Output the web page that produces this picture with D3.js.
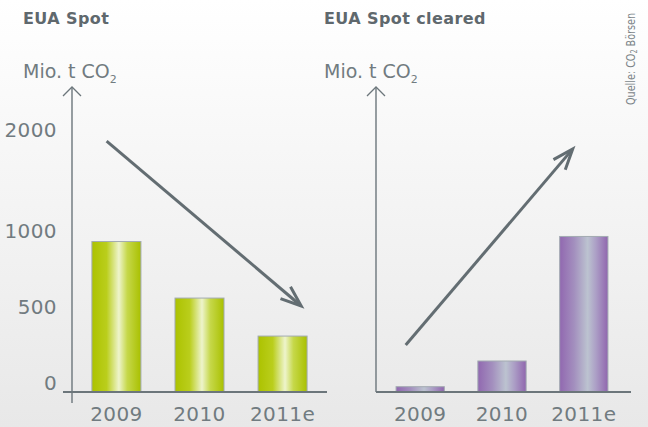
<!DOCTYPE html>
<html><head><meta charset="utf-8">
<script src="https://cdn.jsdelivr.net/npm/d3@7"></script>
<style>
html,body{margin:0;padding:0;}
svg{display:block;}
text{font-family:"DejaVu Sans",sans-serif;}
</style></head>
<body><svg id="c" width="648" height="427"></svg>
<script>
const categories = ["2009","2010","2011e"];
const spotValues = [990, 618, 368];
const clearedValues = [35, 204, 1035];
const tickValues = [0, 500, 1000, 2000];
const titles = ["EUA Spot", "EUA Spot cleared"];
// trend annotations: [category, fraction of band, value]
const trendSpot = [["2009", 0.3, 1980], ["2011e", 0.88, 566]];
const trendCleared = [["2009", 0.2, 309], ["2011e", 0.27, 1901]];

const svg = d3.select("#c");
const W = 648, H = 427;
const defs = svg.append("defs");
const bg = defs.append("linearGradient").attr("id","bg").attr("x1",0).attr("y1",0).attr("x2",0).attr("y2",1);
bg.append("stop").attr("offset","0%").attr("stop-color","#ffffff");
bg.append("stop").attr("offset","100%").attr("stop-color","#e8e8e8");
svg.append("rect").attr("width",W).attr("height",H).attr("fill","url(#bg)");

function grad(id, stops){
  const g = defs.append("linearGradient").attr("id",id).attr("x1",0).attr("y1",0).attr("x2",1).attr("y2",0);
  stops.forEach(s=>g.append("stop").attr("offset",s[0]).attr("stop-color",s[1]));
}
grad("green", [["0%","#acc200"],["30%","#bace1c"],["55%","#eef4cc"],["72%","#c6d84a"],["100%","#a9c000"]]);
grad("purple", [["0%","#9168b0"],["30%","#a38fbe"],["58%","#bcc3d0"],["75%","#ac9fc6"],["100%","#9066ae"]]);

const y = d3.scaleLinear().domain([0,1000,2000]).range([392,240,139]);

const axisColor = "#6c767b";
const textColor = "#717b80";

function panel(opt){
  const g = svg.append("g");
  const x = d3.scaleBand().domain(categories).range(opt.xr).paddingInner(0.41).paddingOuter(0.2);
  g.selectAll("rect.bar").data(opt.values).join("rect")
    .attr("x",(d,i)=>x(categories[i]))
    .attr("y",d=>y(d))
    .attr("width",x.bandwidth())
    .attr("height",d=>y(0)-y(d))
    .attr("fill",`url(#${opt.fill})`)
    .attr("stroke","#a3abb2").attr("stroke-width",1);
  g.append("line").attr("x1",opt.ax).attr("x2",opt.ax).attr("y1",y(0)+opt.yExt).attr("y2",87)
    .attr("stroke",axisColor).attr("stroke-width",1.4);
  g.append("path").attr("d",`M${opt.ax-9},96L${opt.ax},87L${opt.ax+9},96`)
    .attr("fill","none").attr("stroke",axisColor).attr("stroke-width",1.3);
  g.append("line").attr("x1",opt.ax-opt.xExt).attr("x2",opt.xEnd).attr("y1",y(0)).attr("y2",y(0))
    .attr("stroke",axisColor).attr("stroke-width",2);
  const xa = g.append("g").attr("transform",`translate(0,${y(0)})`)
    .call(d3.axisBottom(x).tickSize(0).tickPadding(0));
  xa.select(".domain").remove();
  xa.selectAll("text").attr("dy",0).attr("y",29).attr("font-size",20)
    .attr("fill",textColor).attr("font-family","DejaVu Sans").style("letter-spacing","0.4px");
  if(opt.ticks){
    const ya = g.append("g").attr("transform",`translate(${opt.ax},0)`)
      .call(d3.axisLeft(y).tickValues(tickValues).tickSize(0).tickPadding(15).tickFormat(d3.format("d")));
    ya.select(".domain").remove();
    ya.selectAll("text").attr("dy","-0.12em").attr("font-size",20).attr("fill",textColor)
      .attr("font-family","DejaVu Sans").style("letter-spacing","0.4px");
  }
  g.append("text").attr("x",opt.tx).attr("y",24).text(opt.title)
    .attr("font-size",16).attr("font-weight","bold").attr("fill","#5f686d").style("letter-spacing","0.4px");
  const u = g.append("text").attr("x",opt.tx).attr("y",78).attr("font-size",19).attr("fill",textColor);
  u.append("tspan").text("Mio. t CO");
  u.append("tspan").text("2").attr("font-size",11).attr("dy",5);
  const p0 = [x(opt.trend[0][0]) + opt.trend[0][1]*x.bandwidth(), y(opt.trend[0][2])];
  const p1 = [x(opt.trend[1][0]) + opt.trend[1][1]*x.bandwidth(), y(opt.trend[1][2])];
  const ang = Math.atan2(p1[1]-p0[1], p1[0]-p0[0]);
  const L = 22, da = 0.36;
  const a1 = [p1[0]-L*Math.cos(ang-da), p1[1]-L*Math.sin(ang-da)];
  const a2 = [p1[0]-L*Math.cos(ang+da), p1[1]-L*Math.sin(ang+da)];
  g.append("line").attr("x1",p0[0]).attr("y1",p0[1]).attr("x2",p1[0]-1.5*Math.cos(ang)).attr("y2",p1[1]-1.5*Math.sin(ang))
    .attr("stroke","#636d72").attr("stroke-width",3);
  g.append("path").attr("d",`M${a1}L${p1}L${a2}`).attr("fill","none")
    .attr("stroke","#636d72").attr("stroke-width",3).attr("stroke-linejoin","miter");
}

panel({xr:[75.3,323.7], values:spotValues, fill:"green", ax:72, yExt:11, xExt:9, xEnd:327, ticks:true, tx:23, title:titles[0], trend:trendSpot});
panel({xr:[379.7,624.3], values:clearedValues, fill:"purple", ax:376, yExt:0, xExt:0, xEnd:631, ticks:false, tx:324, title:titles[1], trend:trendCleared});

const s = svg.append("text").attr("transform","translate(635,105) rotate(-90)")
  .attr("font-size",12).attr("fill","#7b8488").attr("font-family","DejaVu Sans Condensed, DejaVu Sans")
  .attr("textLength",92).attr("lengthAdjust","spacingAndGlyphs");
s.append("tspan").text("Quelle: CO");
s.append("tspan").text("2").attr("font-size",8).attr("dy",2);
s.append("tspan").text(" Börsen").attr("dy",-2);
</script></body></html>
